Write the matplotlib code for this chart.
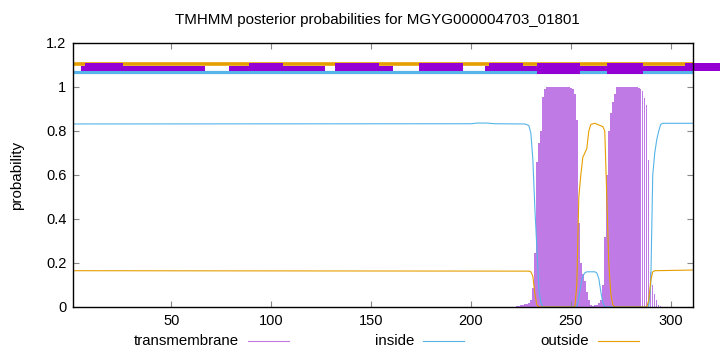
import matplotlib
matplotlib.use("Agg")
import matplotlib.pyplot as plt
from matplotlib.lines import Line2D
from matplotlib.patches import Rectangle
from matplotlib.ticker import FuncFormatter

plt.rcParams['font.family'] = ['Liberation Sans', 'DejaVu Sans']

title = "TMHMM posterior probabilities for MGYG000004703_01801"
seq_len = 311

# transmembrane posterior per residue (residues not listed are ~0)
tm_start = 223
tm_values = [0.005, 0.006, 0.008, 0.01, 0.012, 0.015, 0.02,          # 223-229
             0.03, 0.086, 0.245, 0.66, 0.745, 0.80, 0.955, 0.99,      # 230-237
             1.0, 1.0, 1.0, 1.0, 1.0, 1.0, 1.0, 1.0, 1.0, 1.0, 1.0,   # 238-248
             1.0, 0.995, 0.99, 0.97, 0.85, 0.38, 0.2, 0.15, 0.12,     # 249-257
             0.07, 0.03, 0.01, 0.005, 0.008, 0.01, 0.02,              # 258-264
             0.03, 0.1, 0.32, 0.6, 0.8, 0.88, 0.93, 0.97,             # 265-272
             1.0, 1.0, 1.0, 1.0, 1.0, 1.0, 1.0, 1.0, 1.0, 1.0, 1.0,   # 273-283
             0.995, 0.99, 0.98, 0.95, 0.92, 0.67, 0.16, 0.1,          # 284-291
             0.06, 0.03, 0.01, 0.005]                                 # 292-295

inside_x = [1, 200, 203, 208, 212, 227, 229, 230, 231, 232, 233, 234, 235, 236,
            253, 254, 255, 256, 257, 258, 262, 263, 264, 265, 266, 267,
            289, 290, 291, 292, 293, 294, 295, 296, 311]
inside_y = [0.832, 0.833, 0.836, 0.836, 0.833, 0.832, 0.825, 0.79, 0.67, 0.45, 0.27, 0.08, 0.02, 0.0,
            0.0, 0.04, 0.10, 0.14, 0.155, 0.16, 0.16, 0.155, 0.13, 0.07, 0.02, 0.0,
            0.0, 0.1, 0.6, 0.7, 0.76, 0.8, 0.83, 0.835, 0.835]

outside_x = [1, 229, 230, 231, 232, 233, 234, 252, 253, 254, 255, 256, 257, 258, 259,
             260, 262, 266, 267, 268, 269, 270, 271, 272, 288, 289, 290, 291, 292, 311]
outside_y = [0.165, 0.163, 0.16, 0.14, 0.06, 0.01, 0.0, 0.0, 0.1, 0.5, 0.6, 0.68, 0.7, 0.72, 0.8,
             0.83, 0.835, 0.82, 0.8, 0.5, 0.2, 0.06, 0.01, 0.0, 0.0, 0.03, 0.12, 0.16, 0.165, 0.168]

# top prediction bar segments (start, end, kind)
seg_start = [5, 7, 79, 89, 132, 132, 174, 207, 209, 233, 254.5, 268, 286, 307]
seg_end = [67, 26, 127, 106, 161, 154, 196, 233, 226, 254.5, 268, 286, 307, 324.5]
seg_kind = ['lower', 'upper', 'lower', 'upper', 'lower', 'upper', 'upper', 'lower',
            'upper', 'tall', 'lower', 'tall', 'lower', 'upper']

PURPLE = '#9400D3'
BLUE = '#56B4E9'
ORANGE = '#E69F00'
TMCOL = '#c07ae6'

fig = plt.figure(figsize=(7.2, 3.52), dpi=100)
ax = fig.add_axes([73.3 / 720, 1 - 307 / 352, (692.7 - 73.3) / 720, (307 - 43) / 352])

tm_x = list(range(tm_start, tm_start + len(tm_values)))
ax.bar(tm_x, tm_values, width=0.75, color=TMCOL, linewidth=0, zorder=1)
ax.plot(inside_x, inside_y, color=BLUE, linewidth=0.8, zorder=1.5)
ax.plot(outside_x, outside_y, color=ORANGE, linewidth=0.8, zorder=1.5)

# top bars
ax.plot([1, seq_len], [1.105, 1.105], color=ORANGE, linewidth=2.6, solid_capstyle='butt',
        clip_on=False, zorder=1.8)
ax.plot([1, seq_len], [1.068, 1.068], color=BLUE, linewidth=2.3, solid_capstyle='butt',
        clip_on=False, zorder=1.8)
kinds = {'lower': (1.074, 1.097), 'upper': (1.074, 1.108), 'tall': (1.061, 1.110)}
for s, e, k in zip(seg_start, seg_end, seg_kind):
    y0, y1 = kinds[k]
    ax.add_patch(Rectangle((s, y0), e - s, y1 - y0, facecolor=PURPLE, edgecolor='none',
                           clip_on=False, zorder=2))

ax.set_xlim(1, seq_len)
ax.set_ylim(0, 1.2)
ax.set_xticks([50, 100, 150, 200, 250, 300])
ax.set_yticks([0, 0.2, 0.4, 0.6, 0.8, 1.0, 1.2])
ax.yaxis.set_major_formatter(FuncFormatter(lambda v, p: ('%g' % round(v, 2))))
ax.tick_params(direction='in', top=True, right=True, length=4, width=0.8,
               color='#888888', labelsize=10.5, pad=5)
for sp in ax.spines.values():
    sp.set_linewidth(1.0)
    sp.set_color('black')

fig.text(17 / 720, 1 - 175 / 352, 'probability', rotation=90, ha='center', va='center',
         fontsize=11)
fig.text(377.5 / 720, 1 - 20 / 352, title, ha='center', va='center', fontsize=10.9)

# legend
leg_y = 1 - 341 / 352
entries = [('transmembrane', TMCOL, 238.5, 248, 288.5),
           ('inside', BLUE, 414.6, 423, 463.5),
           ('outside', ORANGE, 589, 598, 638.5)]
for label, col, tx, l0, l1 in entries:
    fig.text(tx / 720, leg_y, label, ha='right', va='center', fontsize=10.8)
    fig.add_artist(Line2D([l0 / 720, l1 / 720], [leg_y, leg_y], color=col, linewidth=0.8))

fig.savefig('out.png', dpi=100)
